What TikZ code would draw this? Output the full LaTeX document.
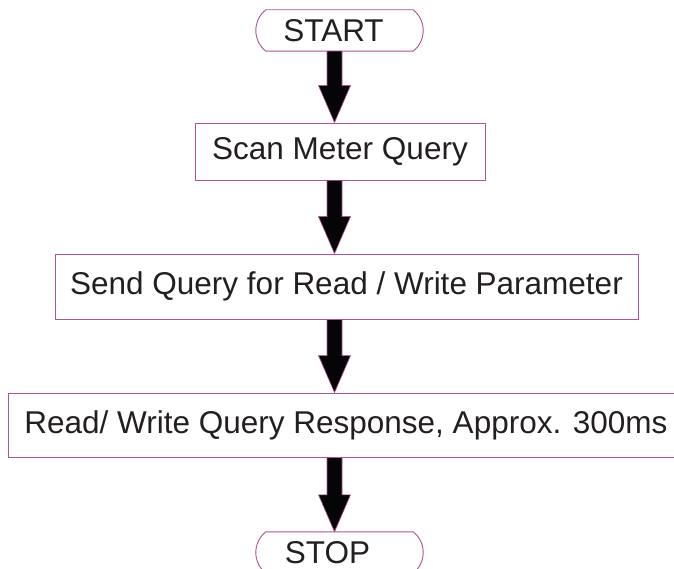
\documentclass[tikz,border=0pt]{standalone}
\usepackage{fontspec}
\setmainfont{Liberation Sans}
\usetikzlibrary{calc}
\definecolor{bord}{RGB}{176,82,150}
\definecolor{txt}{RGB}{35,31,32}
\definecolor{arrfill}{RGB}{5,5,8}
\tikzset{
  boxnode/.style={draw=bord,line width=0.9pt,fill=white,rectangle,inner sep=0pt,text=txt,font=\fontsize{31.5}{36}\selectfont},
  termnode/.style={draw=none,inner sep=0pt,text=txt,font=\fontsize{31.5}{36}\selectfont},
  termline/.style={draw=bord,line width=0.9pt,fill=white},
  blockarrow/.style={draw=bord,line width=0.6pt,fill=arrfill,line join=miter},
}
\newcommand\termoutline[1]{%
  \path[termline] ([xshift=10pt]#1.north west) -- ([xshift=-10pt]#1.north east)
    .. controls +(6.3,4.9) and +(0,-8) .. (#1.east)
    .. controls +(0,8) and +(6.3,-4.9) .. ([xshift=-10pt]#1.south east)
    -- ([xshift=10pt]#1.south west)
    .. controls +(-6.3,-4.9) and +(0,8) .. (#1.west)
    .. controls +(0,-8) and +(-6.3,4.9) .. cycle;}
\newcommand\blockarr[2]{%
  \coordinate (aA) at (#1.south -| axis);
  \coordinate (aB) at (#2.north -| axis);
  \path[blockarrow] ($(aA)+(-7.5,0)$) -- ($(aB)+(-7.5,-37)$) -- ($(aB)+(-16,-37)$)
    -- (aB) -- ($(aB)+(16,-37)$) -- ($(aB)+(7.5,-37)$) -- ($(aA)+(7.5,0)$) -- cycle;}
\begin{document}
\begin{tikzpicture}[x=1pt,y=-1pt]
\useasboundingbox (0,0) rectangle (674,569);
\clip (0,0) rectangle (674,569);
\coordinate (axis) at (334.5,0);
\node[termnode,minimum width=167pt,minimum height=41pt] (start) at (339.5,30.5) {};
\termoutline{start}
\node[termnode] (starttext) at ($(start)+(-6,0)$) {START};
\node[boxnode,minimum width=290pt,minimum height=57pt] (scan) at (340,151.5) {Scan Meter Query};
\node[boxnode,minimum width=583pt,minimum height=65pt] (send) at (346.5,286.5) {Send Query for Read / Write Parameter};
\node[boxnode,minimum width=676pt,minimum height=64pt] (read) at (346,425) {Read/ Write Query Response, Approx. 300ms};
\node[termnode,minimum width=167pt,minimum height=41pt] (stop) at (339.5,552.5) {};
\termoutline{stop}
\node[termnode] (stoptext) at ($(stop)+(-12,0)$) {STOP};
\blockarr{start}{scan}
\blockarr{scan}{send}
\blockarr{send}{read}
\blockarr{read}{stop}
\end{tikzpicture}
\end{document}
